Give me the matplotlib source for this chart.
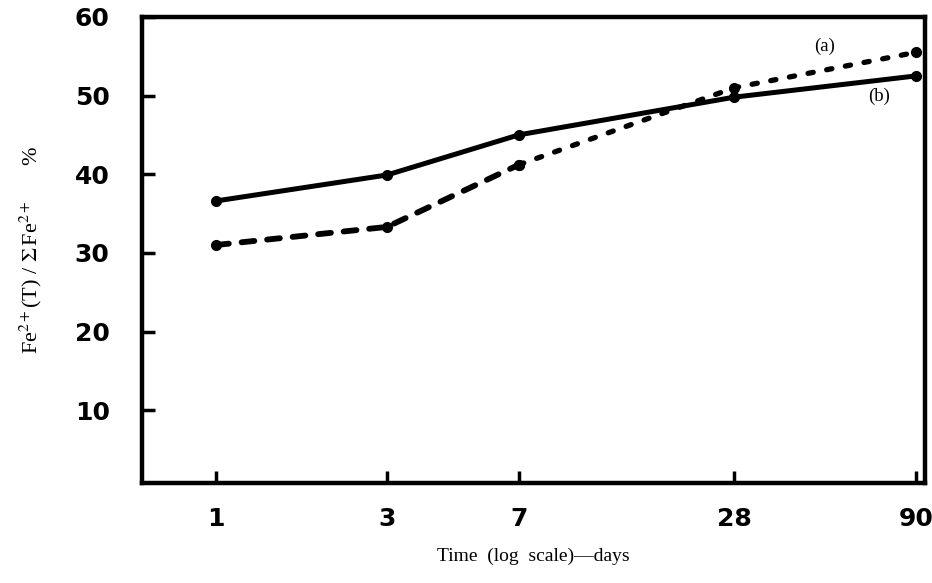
"""Fe2+ fraction over time, log time axis."""

import matplotlib

matplotlib.use("Agg")

import matplotlib.pyplot as plt

DAYS = [1, 3, 7, 28, 90]
TICK_LABELS = ["1", "3", "7", "28", "90"]
SERIES_A = [31.0, 33.3, 41.2, 51.0, 55.5]
SERIES_B = [36.6, 39.9, 45.0, 49.8, 52.5]
Y_TICKS = [10, 20, 30, 40, 50, 60]

plt.rcParams["mathtext.fontset"] = "stix"

fig = plt.figure(figsize=(9.32, 5.83), dpi=100)
ax = fig.add_axes((0.152, 0.171, 0.840, 0.800))

ax.set_xscale("log")
ax.set_xlim(0.62, 95)
ax.set_ylim(0.7, 60)

# curve (b): solid
ax.plot(DAYS, SERIES_B, color="black", linewidth=3.6, marker="o", markersize=7, solid_capstyle="round")
# curve (a): dashed at first, then dotted towards long times
ax.plot(DAYS[:3], SERIES_A[:3], color="black", linewidth=4.2, linestyle=(0, (2.2, 2.2)), marker="o", markersize=7,
        dash_capstyle="round")
ax.plot(DAYS[2:], SERIES_A[2:], color="black", linewidth=3.8, linestyle=(0, (1.0, 2.6)), marker="o", markersize=7,
        dash_capstyle="round")

ax.text(50, 56.3, "(a)", family="Liberation Serif", fontsize=13.5, ha="center", va="center")
ax.text(71, 49.9, "(b)", family="Liberation Serif", fontsize=13.5, ha="center", va="center")

ax.set_xticks(DAYS)
ax.set_xticklabels(TICK_LABELS)
ax.xaxis.set_minor_locator(matplotlib.ticker.NullLocator())
ax.set_yticks(Y_TICKS)
ax.tick_params(axis="both", direction="in", length=9, width=2.5, labelsize=18, color="black")
ax.tick_params(axis="x", pad=17)
ax.tick_params(axis="y", pad=23)
for label in ax.get_xticklabels() + ax.get_yticklabels():
    label.set_fontweight("heavy")
    label.set_family("DejaVu Sans")

for spine in ax.spines.values():
    spine.set_linewidth(3.2)

ax.set_xlabel("Time  (log  scale)\u2014days", family="Liberation Serif", fontsize=14, labelpad=12)
ax.set_ylabel(r"Fe$^{2+}$(T) / $\Sigma\,$Fe$^{2+}$      %", family="Liberation Serif", fontsize=16, labelpad=22)

fig.savefig("out.png", dpi=100)
